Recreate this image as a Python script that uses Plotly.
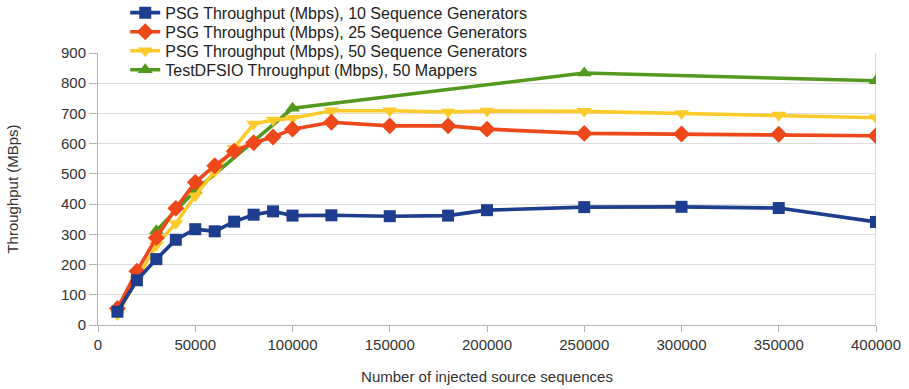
import plotly.graph_objects as go

x_psg = [10000, 20000, 30000, 40000, 50000, 60000, 70000, 80000, 90000, 100000,
         120000, 150000, 180000, 200000, 250000, 300000, 350000, 400000]
psg_10 = [44, 148, 218, 282, 317, 310, 342, 365, 376, 362,
          363, 360, 362, 380, 390, 391, 387, 341]
psg_25 = [55, 178, 289, 386, 472, 527, 575, 603, 622, 648,
          671, 659, 659, 648, 634, 632, 631, 626]
psg_50 = [35, 150, 265, 336, 428, 508, 585, 665, 678, 684,
          709, 709, 705, 708, 707, 700, 695, 686]
x_dfsio = [30000, 50000, 100000, 250000, 400000]
dfsio_50 = [312, 445, 717, 834, 808]

names = [
    "PSG Throughput (Mbps), 10 Sequence Generators",
    "PSG Throughput (Mbps), 25 Sequence Generators",
    "PSG Throughput (Mbps), 50 Sequence Generators",
    "TestDFSIO Throughput (Mbps), 50 Mappers",
]
x_ticks = [0, 50000, 100000, 150000, 200000, 250000, 300000, 350000, 400000]
y_ticks = [0, 100, 200, 300, 400, 500, 600, 700, 800, 900]

colors = ["#1d3d8f", "#ee471a", "#fcca2a", "#52991e"]
symbols = ["square", "diamond", "triangle-down", "triangle-up"]
sizes = [12, 13, 13, 13]
legend_ids = ["legend", "legend2", "legend3", "legend4"]
legend_y = [1.148, 1.078, 1.008, 0.938]

fig = go.Figure()
series = [(x_psg, psg_10), (x_psg, psg_25), (x_psg, psg_50), (x_dfsio, dfsio_50)]
order = [3, 2, 1, 0]
traces = []
for i, (xs, ys) in enumerate(series):
    traces.append(go.Scatter(
        x=xs, y=ys, name=names[i], mode="lines+markers",
        line=dict(color=colors[i], width=3.6),
        marker=dict(symbol=symbols[i], size=sizes[i], color=colors[i],
                    line=dict(width=0)),
        legend=legend_ids[i],
    ))
for i in order:
    fig.add_trace(traces[i])

legend_style = dict(x=0.035, xanchor="left", yanchor="middle",
                    bgcolor="rgba(0,0,0,0)", font=dict(size=16, color="#222222"),
                    itemwidth=30)
fig.update_layout(
    width=909, height=389,
    margin=dict(l=98, r=33, t=53, b=64, autoexpand=False),
    paper_bgcolor="white", plot_bgcolor="white",
    font=dict(family="Liberation Sans, Arial, sans-serif", size=15, color="#333333"),
    showlegend=True,
    legend=dict(y=legend_y[0], **legend_style),
    legend2=dict(y=legend_y[1], **legend_style),
    legend3=dict(y=legend_y[2], **legend_style),
    legend4=dict(y=legend_y[3], **legend_style),
    xaxis=dict(range=[0, 400000], tickvals=x_ticks,
               ticktext=[str(v) for v in x_ticks],
               showgrid=False, zeroline=False, showline=True, automargin=False,
               linecolor="#b3b3b3", linewidth=1, mirror=False,
               ticks="outside", ticklen=6, tickcolor="#b3b3b3",
               title=dict(text="Number of injected source sequences",
                          font=dict(size=15, color="#333333"), standoff=19),
               tickfont=dict(size=15, color="#333333")),
    yaxis=dict(range=[0, 900], tickvals=y_ticks,
               showgrid=True, gridcolor="#dddddd", gridwidth=1, automargin=False,
               zeroline=False, showline=True, linecolor="#b3b3b3", linewidth=1,
               ticks="outside", ticklen=8, tickcolor="#b3b3b3",
               title=dict(text="Throughput (MBps)",
                          font=dict(size=15, color="#333333"), standoff=38),
               tickfont=dict(size=15, color="#333333")),
)
fig.add_shape(type="line", xref="x", yref="paper", x0=400000, x1=400000, y0=0, y1=1,
              line=dict(color="#b3b3b3", width=1), layer="below")

fig.write_html("out.html",
               config={"displayModeBar": False},
               post_script="document.body.style.margin='0';document.body.style.overflow='hidden';")
